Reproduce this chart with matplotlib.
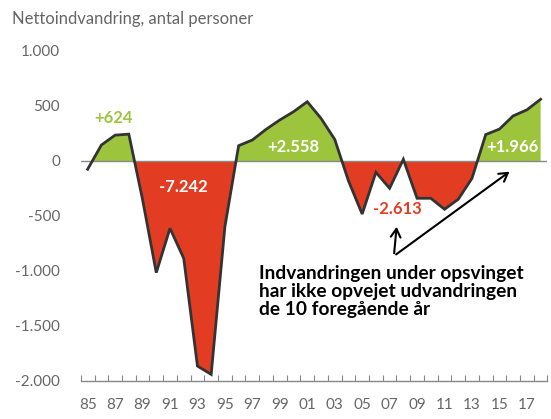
import numpy as np
import matplotlib
matplotlib.use("Agg")
import matplotlib.pyplot as plt

years = list(range(1985, 2019))
values = [-75, 145, 235, 244, -350, -1015, -612, -885, -1864, -1940, -597,
          139, 191, 288, 373, 448, 539, 388, 197,
          -180, -482, -103, -248, 15, -339, -339, -439, -348, -158,
          240, 290, 410, 465, 561]
tick_years = list(range(1985, 2018, 2))
tick_labels = ["%02d" % (y % 100) for y in tick_years]
ytick_vals = [1000, 500, 0, -500, -1000, -1500, -2000]
ytick_labels = ["1.000", "500", "0", "-500", "-1.000", "-1.500", "-2.000"]
period_labels = ["+624", "-7.242", "+2.558", "-2.613", "+1.966"]
period_label_pos = [(1986.9, 395), (1991.95, -235), (2000.0, 130), (2007.55, -440), (2015.95, 130)]

GREEN = "#9DC43D"
RED = "#E23D22"
GRAY = "#666666"

plt.rcParams['font.family'] = ['Lato', 'DejaVu Sans']

fig = plt.figure(figsize=(5.51, 4.19), dpi=100)
ax = fig.add_axes([0.1466, 0.0907, 0.847, 0.7876])

xs = np.array(years, dtype=float)
ys = np.array(values, dtype=float)
xf = np.linspace(xs[0], xs[-1], 6601)
yf = np.interp(xf, xs, ys)

green_mask = (yf >= 0) & ~((xf > 2004) & (xf < 2013))
red_mask = (yf <= 0) & (xf > 1986)
ax.fill_between(xf, 0, yf, where=green_mask, color=GREEN, linewidth=0)
ax.fill_between(xf, 0, np.minimum(yf, 0), where=red_mask, color=RED, linewidth=0)

ax.axhline(0, color="#888888", linewidth=1.0, zorder=2)
ax.plot(xs, ys, color="#333333", linewidth=2.0, zorder=3, solid_joinstyle="miter")

ax.set_xlim(1984.5, 2018.5)
ax.set_ylim(-2000, 1000)

for s in ["top", "right", "left"]:
    ax.spines[s].set_visible(False)
ax.spines["bottom"].set_color("#888888")
ax.spines["bottom"].set_linewidth(1.0)

ax.set_xticks(np.arange(1984.5, 2019.0, 1.0), minor=True)
ax.set_xticks(tick_years)
ax.set_xticklabels(tick_labels)
ax.tick_params(axis="x", which="major", length=0, pad=12, labelsize=11, labelcolor=GRAY)
ax.tick_params(axis="x", which="minor", direction="in", length=4, width=0.8, color="#888888")
ax.set_yticks(ytick_vals)
ax.set_yticklabels(ytick_labels)
ax.tick_params(axis="y", length=0, pad=15, labelsize=11, labelcolor=GRAY)

fig.text(0.022, 0.955, "Nettoindvandring, antal personer", fontsize=12, color=GRAY,
         ha="left", va="center")

colors = [GREEN, "white", "white", RED, "white"]
for (lx, ly), txt, c in zip(period_label_pos, period_labels, colors):
    ax.text(lx, ly, txt, color=c, fontsize=12, fontweight="bold", ha="center", va="center", zorder=5)

ax.text(1997.48, -1188, "Indvandringen under opsvinget\nhar ikke opvejet udvandringen\nde 10 foregående år",
        fontsize=13.8, fontweight="bold", color="black", ha="left", va="center", linespacing=1.08, zorder=5)

start = (2007.31, -864)
ax.annotate("", xy=(2007.53, -573), xytext=start,
            arrowprops=dict(arrowstyle="->,head_length=0.6,head_width=0.35", color="black", lw=1.5))
ax.annotate("", xy=(2015.9, -82), xytext=start,
            arrowprops=dict(arrowstyle="->,head_length=0.6,head_width=0.35", color="black", lw=1.5))

fig.savefig("out.png", dpi=100)
